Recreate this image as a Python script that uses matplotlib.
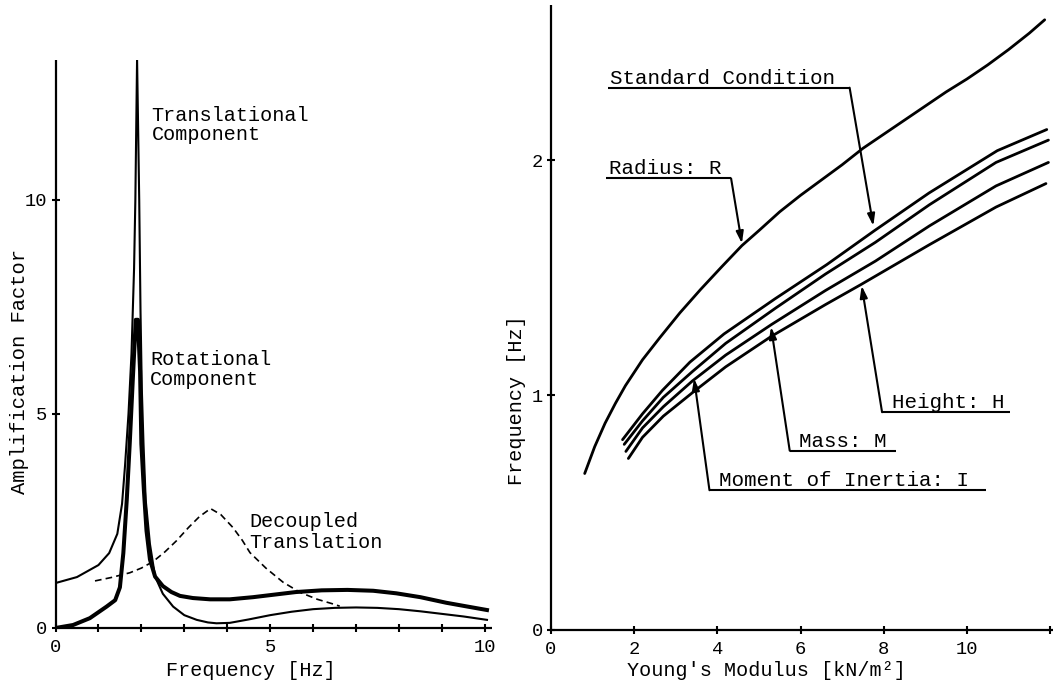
import matplotlib
matplotlib.use("Agg")
import matplotlib.pyplot as plt

plt.rcParams['font.family'] = ['Liberation Mono', 'DejaVu Sans Mono']

# ---------------- Left panel data (Frequency [Hz] vs Amplification Factor)
trans_x = [0.0, 0.5, 1.0, 1.25, 1.44, 1.55, 1.62, 1.7, 1.77, 1.83, 1.86, 1.90, 1.95, 1.98, 2.01,
           2.05, 2.1, 2.2, 2.32, 2.5, 2.74, 3.0, 3.29, 3.55, 3.75, 4.06, 4.5, 5.0, 5.5, 6.0, 6.5,
           7.0, 7.5, 8.0, 8.5, 9.0, 9.5, 10.05]
trans_y = [1.05, 1.19, 1.47, 1.75, 2.2, 2.9, 3.8, 5.0, 6.4, 8.4, 10.0, 13.3, 10.0, 7.4, 5.6,
           4.3, 3.0, 1.96, 1.2, 0.8, 0.5, 0.3, 0.19, 0.13, 0.11, 0.12, 0.2, 0.3, 0.38, 0.44, 0.47,
           0.48, 0.47, 0.44, 0.39, 0.33, 0.27, 0.19]

rot_x = [0.0, 0.41, 0.8, 1.19, 1.39, 1.5, 1.58, 1.66, 1.73, 1.8, 1.87, 1.92, 1.97, 2.0, 2.06,
         2.12, 2.2, 2.32, 2.5, 2.7, 2.9, 3.2, 3.6, 4.06, 4.6, 5.1, 5.6, 6.2, 6.8, 7.4, 7.94,
         8.5, 9.1, 9.6, 10.05]
rot_y = [0.0, 0.07, 0.23, 0.5, 0.65, 0.95, 1.75, 3.0, 4.33, 5.8, 7.2, 7.2, 6.0, 4.3, 3.2,
         2.27, 1.6, 1.2, 0.98, 0.84, 0.75, 0.7, 0.67, 0.67, 0.72, 0.78, 0.84, 0.88, 0.89, 0.87,
         0.81, 0.72, 0.59, 0.5, 0.42]

dec_x = [0.92, 1.3, 1.73, 2.0, 2.27, 2.55, 2.82, 3.1, 3.35, 3.61, 3.85, 4.13, 4.35, 4.53, 4.9,
         5.3, 5.7, 6.1, 6.47, 6.62]
dec_y = [1.1, 1.18, 1.29, 1.4, 1.55, 1.78, 2.04, 2.35, 2.6, 2.79, 2.65, 2.35, 2.05, 1.76, 1.4,
         1.07, 0.83, 0.67, 0.56, 0.51]

left_xticks = [0, 1, 2, 3, 4, 5, 6, 7, 8, 9, 10]
left_xlabels = ['0', '', '', '', '', '5', '', '', '', '', '10']
left_yticks = [0, 5, 10]
left_ylabels = ['0', '5', '10']

# ---------------- Right panel data (Young's Modulus vs Frequency)
rad_x = [0.81, 1.05, 1.30, 1.55, 1.79, 2.2, 2.62, 3.1, 3.60, 4.1, 4.59, 5.0, 5.5, 6.0, 6.5,
         7.0, 7.5, 8.0, 8.5, 9.0, 9.5, 10.0, 10.5, 11.0, 11.5, 11.87]
rad_y = [0.666, 0.78, 0.88, 0.965, 1.04, 1.15, 1.245, 1.35, 1.45, 1.545, 1.636, 1.70, 1.78,
         1.85, 1.915, 1.98, 2.05, 2.11, 2.17, 2.23, 2.29, 2.345, 2.405, 2.47, 2.54, 2.597]

std_x = [1.72, 2.2, 2.68, 3.34, 4.16, 5.39, 6.63, 7.78, 9.09, 10.73, 11.92]
std_y = [0.81, 0.92, 1.02, 1.14, 1.26, 1.41, 1.555, 1.70, 1.86, 2.04, 2.13]

inr_x = [1.76, 2.2, 2.7, 3.4, 4.2, 5.4, 6.6, 7.8, 9.1, 10.7, 11.96]
inr_y = [0.79, 0.89, 0.99, 1.10, 1.22, 1.37, 1.515, 1.65, 1.81, 1.99, 2.085]

mas_x = [1.8, 2.2, 2.7, 3.4, 4.2, 5.3, 6.6, 7.8, 9.1, 10.7, 11.96]
mas_y = [0.76, 0.86, 0.95, 1.06, 1.17, 1.30, 1.445, 1.57, 1.72, 1.89, 1.99]

hgt_x = [1.86, 2.2, 2.7, 3.4, 4.2, 5.3, 6.6, 7.45, 9.1, 10.7, 11.9]
hgt_y = [0.73, 0.82, 0.91, 1.01, 1.12, 1.25, 1.385, 1.47, 1.64, 1.80, 1.90]

right_xticks = [0, 2, 4, 6, 8, 10, 12]
right_xlabels = ['0', '2', '4', '6', '8', '10', '']
right_yticks = [0, 1, 2]
right_ylabels = ['0', '1', '2']

W, H = 1055, 688
fig = plt.figure(figsize=(W / 100, H / 100), dpi=100)


def px(x, y):
    return x / W, 1 - y / H


def style_axes(ax):
    for s in ['top', 'right']:
        ax.spines[s].set_visible(False)
    for s in ['left', 'bottom']:
        ax.spines[s].set_linewidth(1.6)
        ax.spines[s].set_capstyle('butt')
    ax.tick_params(direction='inout', length=6, width=1.5, labelsize=13.5, colors='black')
    ax.tick_params(axis='x', pad=5)
    ax.tick_params(axis='y', pad=3)


# ---------------- Left axes
axL = fig.add_axes([55.5 / W, (H - 628) / H, (491.7 - 55.5) / W, (628 - 60) / H])
axL.plot(trans_x, trans_y, color='black', lw=1.5, solid_joinstyle='round')
axL.plot(rot_x, rot_y, color='black', lw=2.9, solid_joinstyle='round')
axL.plot(dec_x, dec_y, color='black', lw=1.2, dashes=(4, 2.5))
axL.set_xlim(0, 10.16)
axL.set_ylim(0, 13.27)
axL.set_xticks(left_xticks)
axL.set_xticklabels(left_xlabels)
axL.set_yticks(left_yticks)
axL.set_yticklabels(left_ylabels)
style_axes(axL)

fsL = 14.5
axL.text(2.24, 11.85, 'Translational', fontsize=fsL, va='baseline')
axL.text(2.24, 11.40, 'Component', fontsize=fsL, va='baseline')
axL.text(2.20, 6.14, 'Rotational', fontsize=fsL, va='baseline')
axL.text(2.20, 5.68, 'Component', fontsize=fsL, va='baseline')
axL.text(4.51, 2.36, 'Decoupled', fontsize=fsL, va='baseline')
axL.text(4.51, 1.87, 'Translation', fontsize=fsL, va='baseline')

fig.text(*px(251, 670), 'Frequency [Hz]', fontsize=14.5, ha='center', va='center')
fig.text(*px(20, 371), 'Amplification Factor', fontsize=14.8, ha='center', va='center',
         rotation=90)

# ---------------- Right axes
axR = fig.add_axes([551 / W, (H - 630) / H, (1053 - 551) / W, (630 - 5) / H])
for xs, ys in [(rad_x, rad_y), (std_x, std_y), (inr_x, inr_y), (mas_x, mas_y), (hgt_x, hgt_y)]:
    axR.plot(xs, ys, color='black', lw=2.0, solid_joinstyle='round', solid_capstyle='round')
axR.set_xlim(0, 12.07)
axR.set_ylim(0, 2.66)
axR.set_xticks(right_xticks)
axR.set_xticklabels(right_xlabels)
axR.set_yticks(right_yticks)
axR.set_yticklabels(right_ylabels)
style_axes(axR)

fsR = 15.0
arrow_kw = dict(arrowstyle='-|>,head_length=0.7,head_width=0.22', color='black', lw=1.5,
                shrinkA=0, shrinkB=0)


def callout(text, tx, ty, ux0, ux1, corner_x, tip):
    axR.text(tx, ty + 0.017, text, fontsize=fsR, va='baseline', ha='left')
    axR.plot([ux0, ux1], [ty, ty], color='black', lw=1.5, solid_capstyle='butt')
    axR.annotate('', xy=tip, xytext=(corner_x, ty), arrowprops=arrow_kw)


callout('Standard Condition', 1.42, 2.308, 1.37, 7.18, 7.18, (7.75, 1.72))
callout('Radius: R', 1.40, 1.922, 1.32, 4.33, 4.33, (4.59, 1.645))
callout('Height: H', 8.21, 0.927, 7.96, 11.04, 7.96, (7.47, 1.465))
callout('Mass: M', 5.97, 0.763, 5.74, 8.29, 5.74, (5.29, 1.29))
callout('Moment of Inertia: I', 4.05, 0.595, 3.81, 10.47, 3.81, (3.44, 1.07))

fig.text(*px(766, 670), "Young's Modulus [kN/m²]", fontsize=14.5, ha='center', va='center')
fig.text(*px(517, 400), 'Frequency [Hz]', fontsize=14.5, ha='center', va='center', rotation=90)

fig.savefig('out.png', dpi=100, facecolor='white')
